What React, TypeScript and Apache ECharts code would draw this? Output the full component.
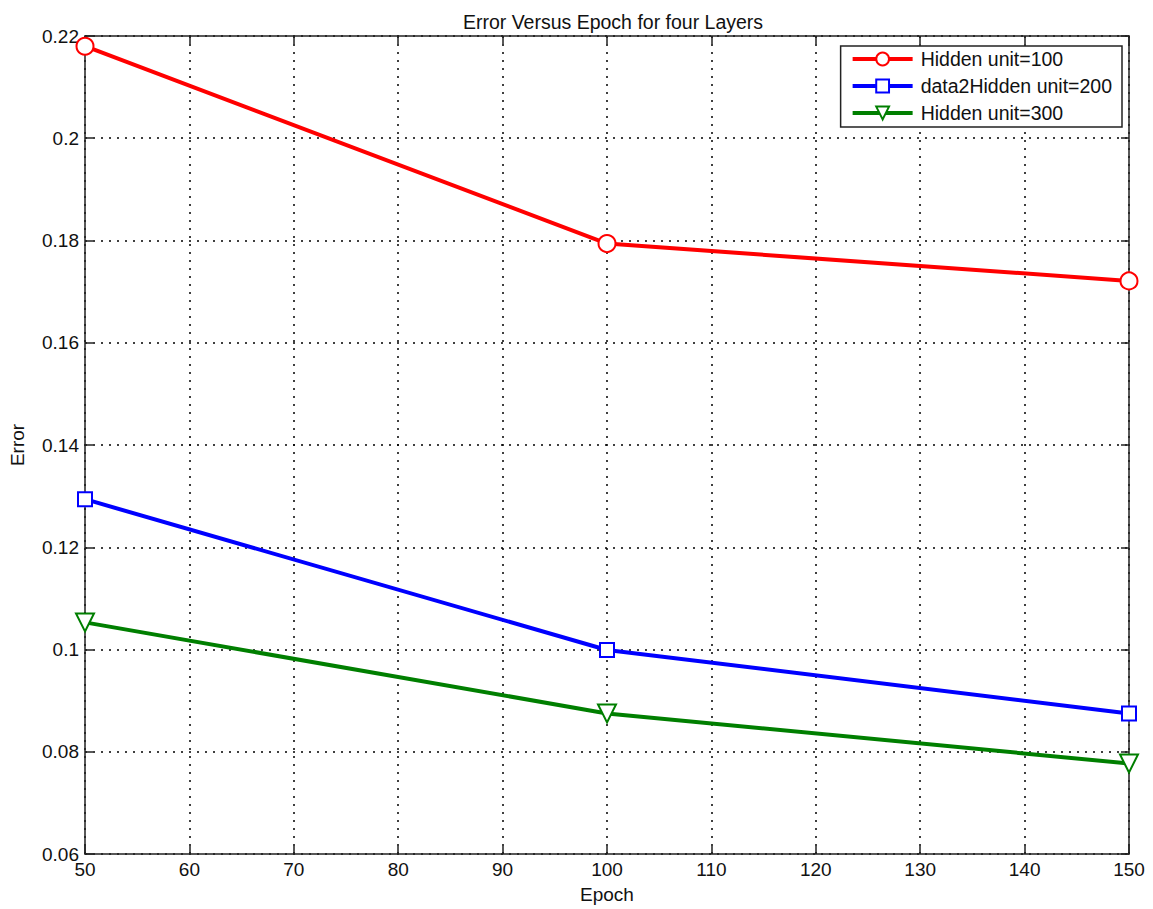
import React, { useEffect, useRef } from "react";
import * as echarts from "echarts";

const epochs = [50, 100, 150];
const hidden100 = [0.218, 0.1794, 0.1721];
const hidden200 = [0.1294, 0.0999, 0.0875];
const hidden300 = [0.1053, 0.0875, 0.0777];
const seriesNames = ["Hidden unit=100", "data2Hidden unit=200", "Hidden unit=300"];

const FONT = "Liberation Sans, Arial, Helvetica, sans-serif";

export default function App() {
  const ref = useRef<HTMLDivElement>(null);
  useEffect(() => {
    if (!ref.current) return;
    const chart = echarts.init(ref.current, undefined, { renderer: "svg" });
    const pair = (ys: number[]) => epochs.map((x, i) => [x, ys[i]]);
    const fmtY = (v: number) => String(parseFloat(v.toFixed(2)));
    const axisLine = { show: true, lineStyle: { color: "#222", width: 1.5 } };
    const splitLine = { show: true, lineStyle: { color: "#000", type: [2, 6] as any, width: 1.5 } };
    const tick = { show: true, inside: true, length: 8, lineStyle: { color: "#222", width: 1.5 } };
    const mk = (name: string, data: number[], color: string, symbol: string, rotate = 0, size = 16) => ({
      name,
      type: "line",
      data: pair(data),
      symbol,
      symbolSize: size,
      symbolRotate: rotate,
      showAllSymbol: true,
      lineStyle: { color, width: 4 },
      itemStyle: { color, borderColor: color, borderWidth: 3.5 },
      z: 5,
    });
    chart.setOption({
      animation: false,
      backgroundColor: "#fff",
      textStyle: { fontFamily: FONT },
      title: {
        text: "Error Versus Epoch for four Layers",
        left: 608,
        textAlign: "center",
        top: 7,
        textStyle: { fontFamily: FONT, fontSize: 19.5, fontWeight: "normal", color: "#111" },
      },
      grid: { left: 84, right: 24, top: 36, bottom: 54, show: false },
      legend: {
        orient: "vertical",
        right: 31,
        top: 46,
        padding: [3, 10, 4, 10],
        itemGap: 7,
        itemWidth: 60,
        itemHeight: 16,
        borderColor: "#222",
        borderWidth: 1.5,
        backgroundColor: "#fff",
        borderRadius: 0,
        lineStyle: { width: 4 },
        textStyle: { fontFamily: FONT, fontSize: 19.5, color: "#111", padding: [0, 0, 0, 3] },
        data: seriesNames,
      },
      xAxis: [
        {
          type: "value",
          min: 50,
          max: 150,
          interval: 10,
          name: "Epoch",
          nameLocation: "middle",
          nameGap: 31,
          nameTextStyle: { fontFamily: FONT, fontSize: 19, color: "#111" },
          axisLine,
          axisTick: tick,
          axisLabel: { fontFamily: FONT, fontSize: 19, color: "#111", margin: 6 },
          splitLine,
        },
        {
          type: "value",
          position: "top",
          min: 50,
          max: 150,
          interval: 10,
          axisLine,
          axisTick: tick,
          axisLabel: { show: false },
          splitLine: { show: false },
        },
      ],
      yAxis: [
        {
          type: "value",
          min: 0.06,
          max: 0.22,
          interval: 0.02,
          name: "Error",
          nameLocation: "middle",
          nameGap: 58,
          nameRotate: 90,
          nameTextStyle: { fontFamily: FONT, fontSize: 19, color: "#111" },
          axisLine,
          axisTick: tick,
          axisLabel: { fontFamily: FONT, fontSize: 19, color: "#111", margin: 6, formatter: fmtY },
          splitLine,
        },
        {
          type: "value",
          position: "right",
          min: 0.06,
          max: 0.22,
          interval: 0.02,
          axisLine,
          axisTick: tick,
          axisLabel: { show: false },
          splitLine: { show: false },
        },
      ],
      series: [
        mk(seriesNames[0], hidden100, "#ff0000", "emptyCircle", 0, 17),
        mk(seriesNames[1], hidden200, "#0000ff", "emptyRect", 0, 14),
        mk(seriesNames[2], hidden300, "#007f00", "emptyTriangle", 180, 18),
      ],
    });
    return () => chart.dispose();
  }, []);
  return (
    <div
      ref={ref}
      style={{ position: "fixed", left: 0, top: 0, width: 1153, height: 909 }}
    />
  );
}
